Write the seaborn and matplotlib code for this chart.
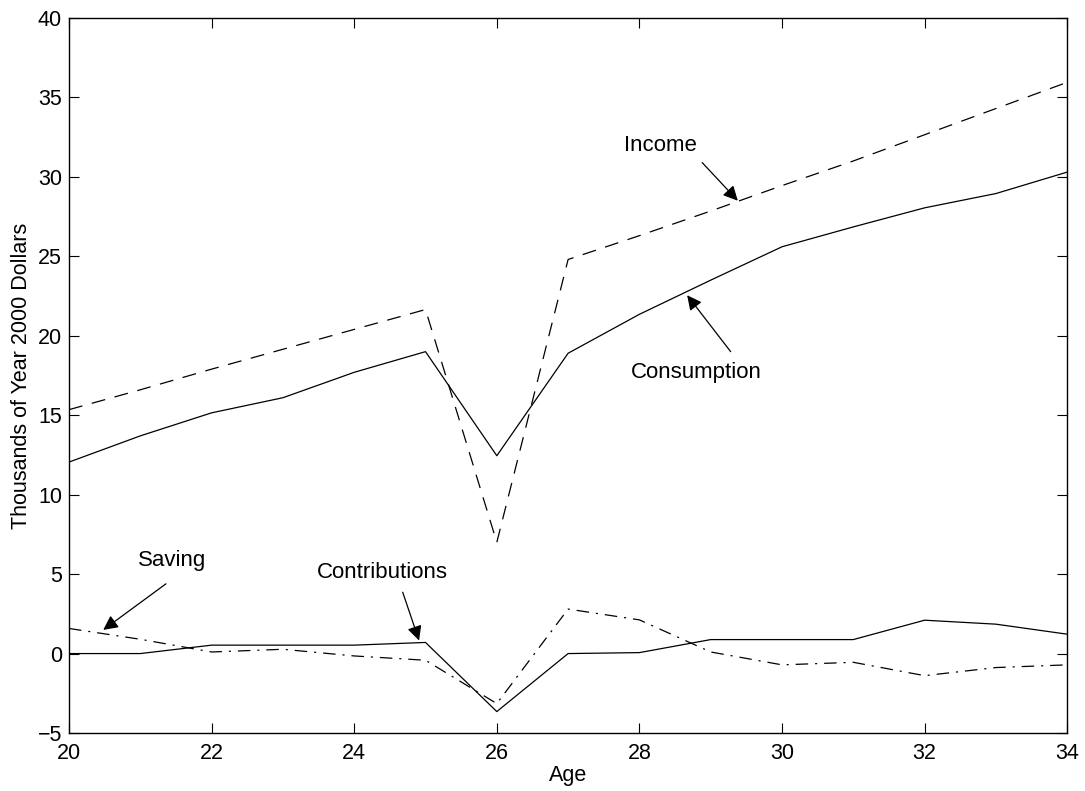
import numpy as np
import pandas as pd
import seaborn as sns
import matplotlib.pyplot as plt

ages = [20, 21, 22, 23, 24, 25, 26, 27, 28, 29, 30, 31, 32, 33, 34]
income = [15.35, 16.6, 17.9, 19.15, 20.4, 21.65, 7.0, 24.8, 26.3, 27.85, 29.45, 31.0, 32.65, 34.3, 35.95]
consumption = [12.05, 13.7, 15.15, 16.1, 17.7, 19.0, 12.45, 18.9, 21.35, 23.5, 25.6, 26.85, 28.05, 28.95, 30.3]
contributions = [0.0, 0.0, 0.53, 0.53, 0.53, 0.7, -3.65, 0.0, 0.06, 0.88, 0.88, 0.88, 2.1, 1.85, 1.22]
saving = [1.58, 0.9, 0.1, 0.27, -0.15, -0.42, -3.15, 2.8, 2.12, 0.1, -0.71, -0.55, -1.39, -0.88, -0.71]

xticks = [20, 22, 24, 26, 28, 30, 32, 34]
yticks = [-5, 0, 5, 10, 15, 20, 25, 30, 35, 40]

sns.set_style("ticks")
plt.rcParams['font.family'] = ['Liberation Sans', 'DejaVu Sans']
plt.rcParams['lines.scale_dashes'] = False
plt.rcParams['text.color'] = 'k'
plt.rcParams['axes.labelcolor'] = 'k'

fig = plt.figure(figsize=(10.85, 7.91), dpi=100)
ax = fig.add_axes([0.0636, 0.0733, 0.92, 0.904])

df = pd.DataFrame({'Age': ages, 'Income': income, 'Consumption': consumption,
                   'Contributions': contributions, 'Saving': saving})

sns.lineplot(data=df, x='Age', y='Income', ax=ax, color='k', lw=0.9)
ax.lines[-1].set_dashes([10, 7])
sns.lineplot(data=df, x='Age', y='Consumption', ax=ax, color='k', lw=0.9)
sns.lineplot(data=df, x='Age', y='Contributions', ax=ax, color='k', lw=0.9)
sns.lineplot(data=df, x='Age', y='Saving', ax=ax, color='k', lw=0.9)
ax.lines[-1].set_dashes([9, 5, 1.5, 5])

ax.set_xlim(20, 34)
ax.set_ylim(-5, 40)
ax.set_xticks(xticks)
ax.set_yticks(yticks)
ax.tick_params(direction='in', top=True, right=True, length=7, width=0.8,
               labelsize=15.5, colors='k')
ax.tick_params(axis='x', pad=7)
ax.tick_params(axis='y', pad=5)
for s in ax.spines.values():
    s.set_visible(True)
    s.set_linewidth(1.0)
    s.set_color('k')

ax.set_xlabel('Age', fontsize=15.5, labelpad=1)
ax.set_ylabel('Thousands of Year 2000 Dollars', fontsize=15.5, labelpad=4)

arrow = dict(arrowstyle='-|>', color='k', lw=0.9, mutation_scale=22,
             shrinkA=0, shrinkB=0)
ax.text(28.3, 32.0, 'Income', fontsize=16, ha='center', va='center')
ax.annotate('', xy=(29.38, 28.5), xytext=(28.88, 30.9), arrowprops=arrow)
ax.text(28.8, 17.7, 'Consumption', fontsize=16, ha='center', va='center')
ax.annotate('', xy=(28.67, 22.55), xytext=(29.28, 19.0), arrowprops=arrow)
ax.text(21.45, 5.86, 'Saving', fontsize=16, ha='center', va='center')
ax.annotate('', xy=(20.48, 1.49), xytext=(21.36, 4.39), arrowprops=arrow)
ax.text(24.4, 5.1, 'Contributions', fontsize=16, ha='center', va='center')
ax.annotate('', xy=(24.91, 0.82), xytext=(24.68, 3.86), arrowprops=arrow)

fig.savefig('out.png', dpi=100)
